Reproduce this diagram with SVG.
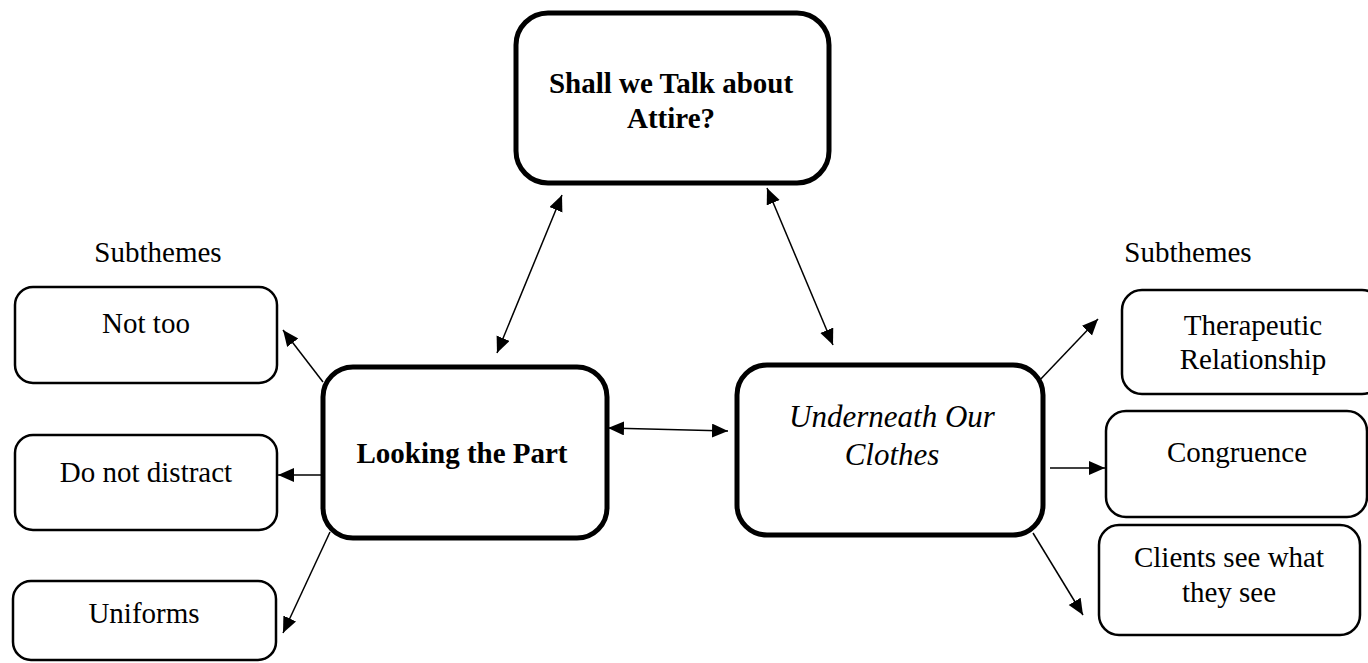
<svg xmlns="http://www.w3.org/2000/svg" width="1368" height="663" viewBox="0 0 1368 663">
<style>
.main{fill:#fff;stroke:#000;stroke-width:5}
.sub{fill:#fff;stroke:#000;stroke-width:2.5}
.t{font-family:"Liberation Serif","Times New Roman",serif;font-size:29px;fill:#000;text-anchor:middle}
.b{font-weight:bold}
.i{font-style:italic;font-size:31px}
.c{stroke:#000;stroke-width:1.5;fill:none}
</style>
<defs>
<marker id="ah" markerUnits="userSpaceOnUse" markerWidth="17" markerHeight="15" refX="16" refY="7" orient="auto-start-reverse" viewBox="0 0 17 15">
<path d="M0,0 L16,7 L0,14 z" fill="#000"/>
</marker>
</defs>
<rect width="1368" height="663" fill="#fff"/>
<g id="connectors">
<line class="c" x1="562" y1="195" x2="497" y2="353" marker-start="url(#ah)" marker-end="url(#ah)"/>
<line class="c" x1="767" y1="188" x2="833" y2="345" marker-start="url(#ah)" marker-end="url(#ah)"/>
<line class="c" x1="608" y1="428" x2="728" y2="431" marker-start="url(#ah)" marker-end="url(#ah)"/>
<line class="c" x1="323" y1="382" x2="283" y2="330" marker-end="url(#ah)"/>
<line class="c" x1="322" y1="475" x2="278" y2="475" marker-end="url(#ah)"/>
<line class="c" x1="330" y1="532" x2="283" y2="633" marker-end="url(#ah)"/>
<line class="c" x1="1037" y1="383" x2="1098" y2="319" marker-end="url(#ah)"/>
<line class="c" x1="1050" y1="468" x2="1105" y2="468" marker-end="url(#ah)"/>
<line class="c" x1="1033" y1="533" x2="1083" y2="615" marker-end="url(#ah)"/>
</g>
<g id="node-top">
<rect class="main" x="516" y="13" width="313" height="170" rx="32"/>
<text class="t b" x="671" y="93">Shall we Talk about</text>
<text class="t b" x="671" y="128">Attire?</text>
</g>
<g id="node-looking">
<rect class="main" x="323" y="367" width="284" height="171" rx="30"/>
<text class="t b" x="462" y="463">Looking the Part</text>
</g>
<g id="node-underneath">
<rect class="main" x="737" y="365" width="306" height="170" rx="30"/>
<text class="t i" x="892" y="427">Underneath Our</text>
<text class="t i" x="892" y="465">Clothes</text>
</g>
<g id="label-left">
<text class="t" x="158" y="262">Subthemes</text>
</g>
<g id="label-right">
<text class="t" x="1188" y="262">Subthemes</text>
</g>
<g id="node-nottoo">
<rect class="sub" x="15" y="287" width="262" height="96" rx="18"/>
<text class="t" x="146" y="333">Not too</text>
</g>
<g id="node-distract">
<rect class="sub" x="15" y="435" width="262" height="95" rx="18"/>
<text class="t" x="146" y="482">Do not distract</text>
</g>
<g id="node-uniforms">
<rect class="sub" x="13" y="581" width="263" height="79" rx="18"/>
<text class="t" x="144" y="623">Uniforms</text>
</g>
<g id="node-therapeutic">
<rect class="sub" x="1122" y="290" width="260" height="104" rx="20"/>
<text class="t" x="1253" y="335">Therapeutic</text>
<text class="t" x="1253" y="369">Relationship</text>
</g>
<g id="node-congruence">
<rect class="sub" x="1106" y="411" width="261" height="106" rx="20"/>
<text class="t" x="1237" y="462">Congruence</text>
</g>
<g id="node-clients">
<rect class="sub" x="1099" y="525" width="261" height="110" rx="20"/>
<text class="t" x="1229" y="567">Clients see what</text>
<text class="t" x="1229" y="602">they see</text>
</g>
</svg>
